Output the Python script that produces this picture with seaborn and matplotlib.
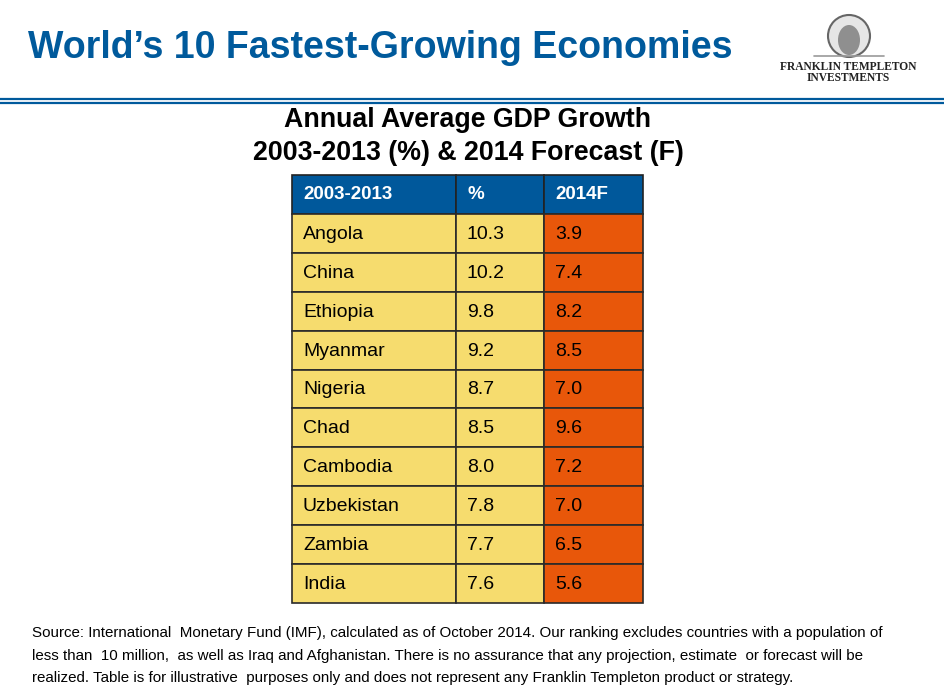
import matplotlib
matplotlib.use("Agg")
import matplotlib.pyplot as plt
import seaborn as sns
from matplotlib.patches import Ellipse

# table data
countries = ["Angola", "China", "Ethiopia", "Myanmar", "Nigeria",
             "Chad", "Cambodia", "Uzbekistan", "Zambia", "India"]
growth_2003_2013 = [10.3, 10.2, 9.8, 9.2, 8.7, 8.5, 8.0, 7.8, 7.7, 7.6]
forecast_2014 = [3.9, 7.4, 8.2, 8.5, 7.0, 9.6, 7.2, 7.0, 6.5, 5.6]
headers = ["2003-2013", "%", "2014F"]

title = "World\u2019s 10 Fastest-Growing Economies"
subtitle_lines = ["Annual Average GDP Growth",
                  "2003-2013 (%) & 2014 Forecast (F)"]
footnote_lines = [
    "Source: International  Monetary Fund (IMF), calculated as of October 2014. Our ranking excludes countries with a population of",
    "less than  10 million,  as well as Iraq and Afghanistan. There is no assurance that any projection, estimate  or forecast will be",
    "realized. Table is for illustrative  purposes only and does not represent any Franklin Templeton product or strategy.",
]

BLUE = "#005A9C"
HEAD = "#00589B"
YELLOW = "#F6DC6E"
ORANGE = "#E8570A"

sns.set_style("white")
plt.rcParams["font.family"] = ["Liberation Sans", "DejaVu Sans"]

W, H = 944, 697
fig = plt.figure(figsize=(W / 100, H / 100), dpi=100)
ax = fig.add_axes([0, 0, 1, 1])
ax.set_xlim(0, W)
ax.set_ylim(H, 0)
ax.axis("off")

# header
ax.text(28, 48, title, fontsize=27, fontweight="bold", color=BLUE,
        va="center", ha="left")
ax.axhline(98.7, color=BLUE, lw=1.6)
ax.axhline(102.7, color=BLUE, lw=1.6)

# logo (rough stand-in for the portrait)
ax.add_patch(Ellipse((849, 36), 42, 42, facecolor="#e6e6e6",
                     edgecolor="#666666", lw=1.5))
ax.add_patch(Ellipse((849, 40), 22, 30, facecolor="#8f8f8f",
                     edgecolor="none"))
ax.plot([814, 884], [56, 56], color="#999999", lw=1.2)
ax.text(848, 67, "FRANKLIN TEMPLETON", fontsize=8.3, fontweight="bold",
        family="Liberation Serif", ha="center", va="center", color="#222222")
ax.text(848, 78, "INVESTMENTS", fontsize=8.3, fontweight="bold",
        family="Liberation Serif", ha="center", va="center", color="#222222")

# subtitle
for y, line in zip([120, 153], subtitle_lines):
    ax.text(468, y, line, fontsize=19.3, fontweight="bold", color="black",
            ha="center", va="center")

# table
col_edges = [292, 456, 544, 643]
top, row_h = 175, 38.9
col_lefts = col_edges[:-1]
col_widths = [col_edges[i + 1] - col_edges[i] for i in range(3)]
text_pad = 11

ax.bar(col_lefts, [row_h] * 3, width=col_widths, bottom=top, align="edge",
       color=HEAD, edgecolor="#222222", linewidth=1.2)
for left, h in zip(col_lefts, headers):
    ax.text(left + text_pad, top + row_h / 2, h, fontsize=13.5,
            fontweight="bold", color="white", va="center")

for i, (c, g, f) in enumerate(zip(countries, growth_2003_2013, forecast_2014)):
    y0 = top + row_h * (i + 1)
    colors = [YELLOW, YELLOW, ORANGE]
    ax.bar(col_lefts, [row_h] * 3, width=col_widths, bottom=y0, align="edge",
           color=colors, edgecolor="#2a2a2a", linewidth=1.2)
    for left, val in zip(col_lefts, [c, f"{g:.1f}", f"{f:.1f}"]):
        ax.text(left + text_pad, y0 + row_h / 2 + 1, val, fontsize=14,
                color="black", va="center")

# footnote
for y, line in zip([633, 656, 678], footnote_lines):
    ax.text(32, y, line, fontsize=10.9, va="center", ha="left", color="black")

fig.savefig("out.png", dpi=100)
